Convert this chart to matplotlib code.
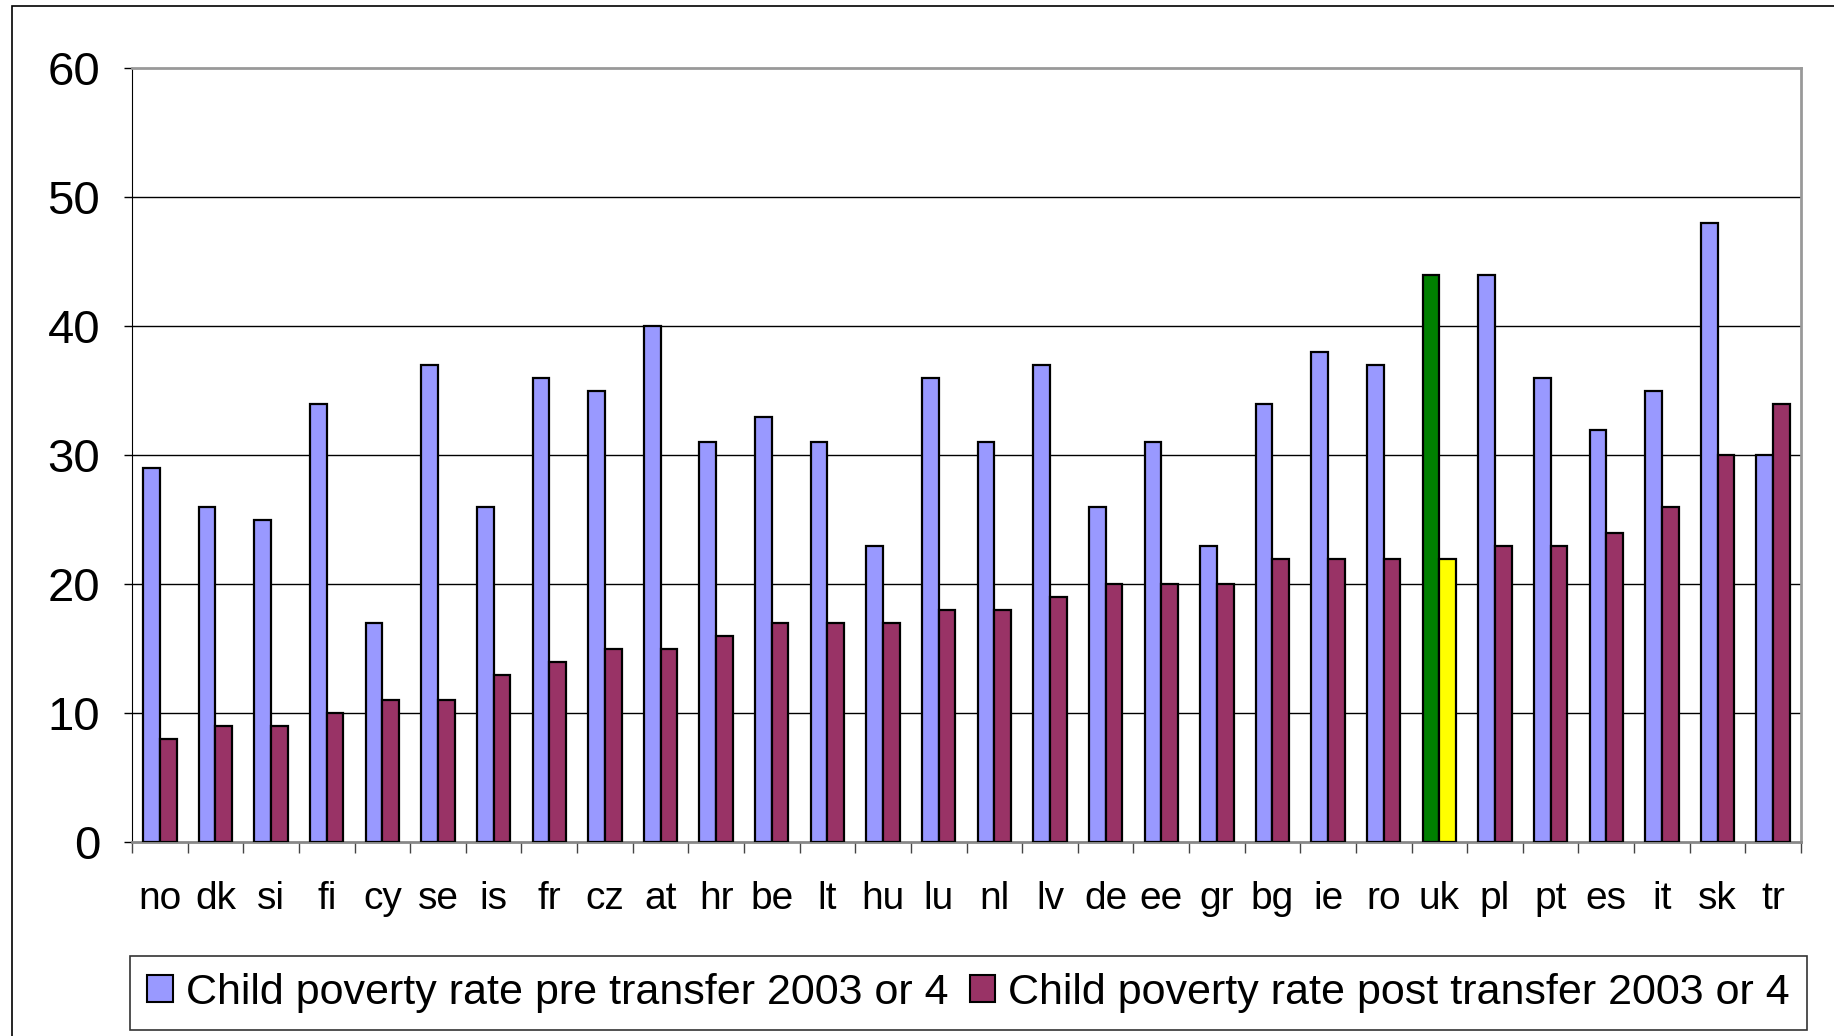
import numpy as np
import matplotlib.pyplot as plt
from matplotlib.patches import Rectangle, Patch

plt.rcParams['font.family'] = ['Liberation Sans', 'DejaVu Sans']

# Datos
countries = ['no', 'dk', 'si', 'fi', 'cy', 'se', 'is', 'fr', 'cz', 'at',
             'hr', 'be', 'lt', 'hu', 'lu', 'nl', 'lv', 'de', 'ee', 'gr',
             'bg', 'ie', 'ro', 'uk', 'pl', 'pt', 'es', 'it', 'sk', 'tr']
pre_transfer = [29, 26, 25, 34, 17, 37, 26, 36, 35, 40,
                31, 33, 31, 23, 36, 31, 37, 26, 31, 23,
                34, 38, 37, 44, 44, 36, 32, 35, 48, 30]
post_transfer = [8, 9, 9, 10, 11, 11, 13, 14, 15, 15,
                 16, 17, 17, 17, 18, 18, 19, 20, 20, 20,
                 22, 22, 22, 22, 23, 23, 24, 26, 30, 34]
pre_label = 'Child poverty rate pre transfer 2003 or 4'
post_label = 'Child poverty rate post transfer 2003 or 4'
highlight = 'uk'

c_pre = '#9999FF'
c_post = '#993366'

fig = plt.figure(figsize=(18.34, 10.36), dpi=100)
ax = fig.add_axes([0.072, 0.187, 0.910, 0.747])

x = np.arange(len(countries))
w = 0.3
pre_colors = ['#008000' if c == highlight else c_pre for c in countries]
post_colors = ['#FFFF00' if c == highlight else c_post for c in countries]
ax.bar(x - w / 2, pre_transfer, w, color=pre_colors, edgecolor='black', linewidth=1.6, zorder=3)
ax.bar(x + w / 2, post_transfer, w, color=post_colors, edgecolor='black', linewidth=1.6, zorder=3)

ax.set_xlim(-0.5, len(countries) - 0.5)
ax.set_ylim(0, 60)
ax.set_yticks(range(0, 61, 10))
ax.tick_params(axis='y', labelsize=34, length=6, width=1, pad=17, direction='out')

# etiquetas en el centro, marcas entre categorias
ax.set_xticks(x)
ax.set_xticklabels(countries)
ax.set_xticks(np.arange(-0.5, len(countries)), minor=True)
ax.tick_params(axis='x', which='major', length=0, labelsize=28, pad=28)
ax.tick_params(axis='x', which='minor', length=8, width=1, color='#444444')

for yv in range(10, 60, 10):
    ax.axhline(yv, color='black', linewidth=1, zorder=1)

ax.spines['top'].set_color('#999999')
ax.spines['top'].set_linewidth(2)
ax.spines['right'].set_color('#999999')
ax.spines['right'].set_linewidth(2)
ax.spines['left'].set_color('black')
ax.spines['bottom'].set_color('#888888')
ax.spines['bottom'].set_linewidth(2)

handles = [Patch(facecolor=c_pre, edgecolor='black', linewidth=1.5),
           Patch(facecolor=c_post, edgecolor='black', linewidth=1.5)]
leg = fig.legend(handles, [pre_label, post_label], loc='center',
                 bbox_to_anchor=(0.528, 0.0415), ncol=2, fontsize=31,
                 frameon=True, fancybox=False, handlelength=0.6, handleheight=0.6,
                 handletextpad=0.3, columnspacing=0.5, borderpad=0.4,
                 borderaxespad=0)
leg.get_frame().set_edgecolor('black')
leg.get_frame().set_linewidth(1.2)

# marco exterior
fig.patches.append(Rectangle((0.0065, -0.01), 1.1, 0.01 + 1 - 6 / 1036,
                             transform=fig.transFigure, fill=False,
                             edgecolor='black', linewidth=1.2))

fig.savefig('out.png', dpi=100)
